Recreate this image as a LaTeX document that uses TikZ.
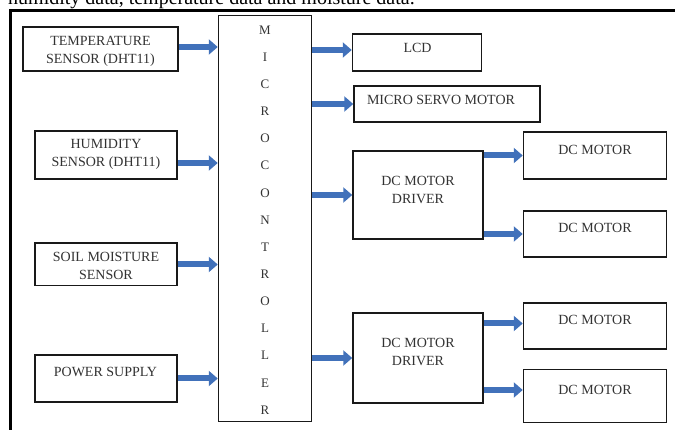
\documentclass[tikz,border=0pt]{standalone}
\usepackage{fontspec}
\setmainfont{Liberation Serif}
\usetikzlibrary{arrows.meta}

\definecolor{arrowblue}{RGB}{65,113,186}
\definecolor{ink}{RGB}{50,50,50}

\tikzset{
  box/.style={draw=black!90,line width=1.5pt,inner sep=0pt},
  txt/.style={text=ink,align=center,inner sep=0pt,font=\fontsize{14}{18}\selectfont},
  letter/.style={text=ink,inner sep=0pt,font=\fontsize{13}{15}\selectfont},
  arr/.style={arrowblue,line width=6pt,-{Triangle[length=9pt,width=15pt]}}
}

\begin{document}
\begin{tikzpicture}[x=1pt,y=-1pt]

\useasboundingbox (0,0) rectangle (675,430);

% Page text and frame
\node[anchor=base west,inner sep=0pt,font=\fontsize{20}{24}\selectfont] (caption) at (8,4.5)
{humidity data, temperature data and moisture data.};
\draw[line width=3pt] (10,432)--(10,11)--(677,11);

% Sensors
\node[box,minimum width=155pt,minimum height=44pt] (temp) at (100.5,49) {};
\node[txt] (temptxt) at (100.5,51.3) {TEMPERATURE\\SENSOR (DHT11)};

\node[box,minimum width=142pt,minimum height=48pt] (hum) at (106,155) {};
\node[txt] (humtxt) at (106,154.5) {HUMIDITY\\SENSOR (DHT11)};

\node[box,minimum width=142pt,minimum height=42.5pt] (soil) at (106,264.5) {};
\node[txt] (soiltxt) at (106,266) {SOIL MOISTURE\\SENSOR};

\node[box,minimum width=142pt,minimum height=47pt] (power) at (106,378.5) {};
\node[txt] (powertxt) at (105.5,371.7) {POWER SUPPLY};

% Microcontroller
\node[box,minimum width=93pt,minimum height=406pt] (micro) at (265,218.5) {};
\foreach \l [count=\i] in {M,I,C,R,O,C,O,N,T,R,O,L,L,E,R}
  \node[letter] (l\i) at (265,{30+27.14*(\i-1)}) {\l};

% Outputs
\node[box,minimum width=129pt,minimum height=37pt] (lcd) at (417,52.5) {};
\node[txt] (lcdtxt) at (417.5,47.7) {LCD};

\node[box,minimum width=186pt,minimum height=36pt] (servo) at (447,104) {};
\node[txt] (servotxt) at (441,100) {MICRO SERVO MOTOR};

\node[box,minimum width=130pt,minimum height=88pt] (drv1) at (418,195) {};
\node[txt] (drv1txt) at (418,190) {DC MOTOR\\DRIVER};

\node[box,minimum width=130pt,minimum height=90pt] (drv2) at (418,358) {};
\node[txt] (drv2txt) at (418,351.7) {DC MOTOR\\DRIVER};

% Motors
\node[box,minimum width=143pt,minimum height=47pt] (dcm1) at (595,155.5) {};
\node[txt] (dcm1txt) at (595,150) {DC MOTOR};
\node[box,minimum width=143pt,minimum height=46pt] (dcm2) at (595,234) {};
\node[txt] (dcm2txt) at (595,228.3) {DC MOTOR};
\node[box,minimum width=143pt,minimum height=46pt] (dcm3) at (595,326) {};
\node[txt] (dcm3txt) at (595,320) {DC MOTOR};
\node[box,minimum width=143pt,minimum height=53pt] (dcm4) at (595,396) {};
\node[txt] (dcm4txt) at (595,390) {DC MOTOR};

% Arrows into the controller
\coordinate (tempout) at ([yshift=2pt]temp.east);
\coordinate (humout) at ([yshift=-8pt]hum.east);
\draw[arr] (tempout)--(tempout -| micro.west);
\draw[arr] (humout)--(humout -| micro.west);
\draw[arr] (soil.east)--(soil.east -| micro.west);
\draw[arr] (power.east)--(power.east -| micro.west);

% Arrows out of the controller
\coordinate (lcdin) at ([yshift=2.5pt]lcd.west);
\draw[arr] (micro.east |- lcdin)--(lcdin);
\draw[arr] (micro.east |- servo.west)--(servo.west);
\draw[arr] (micro.east |- drv1.west)--(drv1.west);
\draw[arr] (micro.east |- drv2.west)--(drv2.west);

% Drivers to motors
\coordinate (m3in) at ([yshift=2.5pt]dcm3.west);
\coordinate (m4in) at ([yshift=6pt]dcm4.west);
\draw[arr] (drv1.east |- dcm1.west)--(dcm1.west);
\draw[arr] (drv1.east |- dcm2.west)--(dcm2.west);
\draw[arr] (drv2.east |- m3in)--(m3in);
\draw[arr] (drv2.east |- m4in)--(m4in);

\end{tikzpicture}
\end{document}
